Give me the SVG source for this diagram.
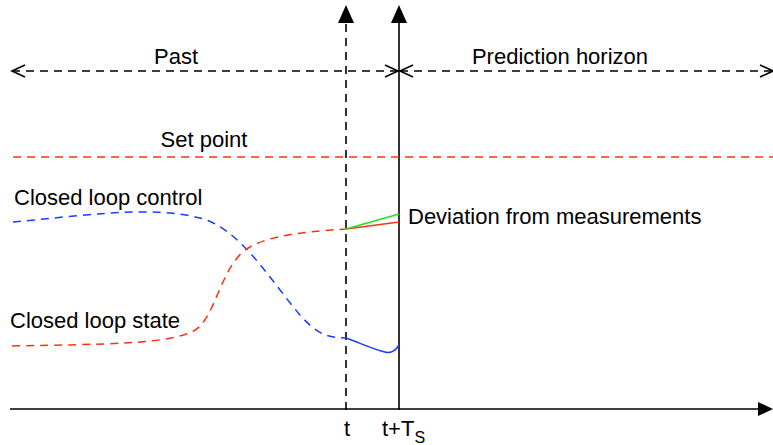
<svg xmlns="http://www.w3.org/2000/svg" width="773" height="445" viewBox="0 0 773 445">
<defs>
<style>
text{font-family:"Liberation Sans",Arial,sans-serif;font-size:22px;fill:#000}
.ax{stroke:#000;stroke-width:1.6;fill:none}
.dash{stroke-dasharray:8,6}
.red{stroke:#ff3314;stroke-width:1.5;fill:none}
.blue{stroke:#1a3cff;stroke-width:1.5;fill:none}
.green{stroke:#22e022;stroke-width:1.5;fill:none}
</style>
<marker id="open" markerWidth="16" markerHeight="14" refX="14" refY="7" orient="auto-start-reverse" markerUnits="userSpaceOnUse" viewBox="0 0 16 14">
<path d="M1,1 L14,7 L1,13" fill="none" stroke="#000" stroke-width="1.6"/>
</marker>
</defs>
<g id="connectors">
<line class="ax" x1="10" y1="409" x2="760" y2="409"/>
<path d="M773,409 L758,402 L758,416 Z" fill="#000"/>
<line class="ax dash" x1="346" y1="410" x2="346" y2="23"/>
<path d="M346,5 L354,23 L338,23 Z" fill="#000"/>
<line class="ax" x1="399" y1="410" x2="399" y2="23"/>
<path d="M399,5 L407,23 L391,23 Z" fill="#000"/>
<line class="ax dash" x1="12" y1="71" x2="398" y2="71" marker-start="url(#open)" marker-end="url(#open)"/>
<line class="ax dash" x1="400" y1="71" x2="773" y2="71" marker-start="url(#open)" marker-end="url(#open)"/>
</g>
<g id="setpoint">
<line class="red dash" x1="13" y1="157" x2="773" y2="157"/>
<text x="204" y="147" text-anchor="middle">Set point</text>
</g>
<g id="past"><text x="176" y="64" text-anchor="middle">Past</text></g>
<g id="horizon"><text x="560" y="64" text-anchor="middle">Prediction horizon</text></g>
<g id="control">
<path class="blue dash" d="M13,222 C80,216 150,205 200,218 C240,228 270,280 300,315 C315,332 325,338 346,338"/>
<path class="blue" d="M346,338 C360,343 375,350 385,352 C392,354 396,350 399,345"/>
<text x="14" y="205">Closed loop control</text>
</g>
<g id="state">
<path class="red dash" d="M12,346 C100,344 170,345 195,330 C215,318 220,270 245,250 C265,236 300,232 346,229"/>
<path class="red" d="M346,229 L399,222"/>
<path class="green" d="M346,229 L399,214"/>
<text x="10" y="328">Closed loop state</text>
</g>
<g id="deviation"><text x="408" y="224">Deviation from measurements</text></g>
<g id="ticks">
<text x="347" y="436" text-anchor="middle">t</text>
<text x="382" y="436">t+T<tspan font-size="16" dy="7">S</tspan></text>
</g>
</svg>
